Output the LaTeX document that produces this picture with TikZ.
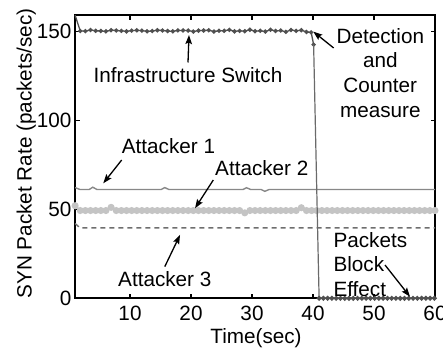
\documentclass[tikz,border=0pt]{standalone}
\usepackage{fontspec}
\setmainfont{Liberation Sans}
\usetikzlibrary{arrows.meta}
\definecolor{infracol}{HTML}{505050}
\definecolor{aonecol}{HTML}{888888}
\definecolor{atwocol}{HTML}{C4C4C4}
\definecolor{athreecol}{HTML}{6E6E6E}
\definecolor{dropcol}{HTML}{6A6A6A}
\definecolor{blockcol}{HTML}{8C8C8C}
\tikzset{
  lbl/.style={font=\fontsize{20.7}{24.7}\selectfont, inner sep=0pt},
  arr/.style={line width=1.3pt, -{Stealth[length=9pt,width=6.5pt,inset=1.5pt]}},
  axframe/.style={line width=2.2pt},
  tickmark/.style={line width=1.2pt},
  infraline/.style={draw=infracol, line width=1.3pt, mark options={fill=infracol, draw=infracol}},
  aoneline/.style={draw=aonecol, line width=1.4pt},
  atwoline/.style={draw=atwocol, line width=2pt, mark options={fill=atwocol, draw=atwocol}},
  athreeline/.style={draw=athreecol, line width=1.4pt, dash pattern=on 5pt off 4pt},
  dropline/.style={draw=dropcol, line width=1.2pt},
  blockline/.style={draw=blockcol, line width=2.3pt, mark options={fill=infracol, draw=infracol}},
}
\begin{document}
\begin{tikzpicture}[x=1pt,y=1pt]
\useasboundingbox (0,0) rectangle (443,352);
\node[lbl, rotate=90, anchor=base] (ylab) at (31.5,198.5) {SYN Packet Rate (packets/sec)};
\node[lbl, anchor=base] (xlab) at (256,8.5) {Time(sec)};
\begin{scope}[shift={(69pt,53.7pt)}, x=6.1pt, y=1.78pt]
  % frame and ticks
  \draw[axframe] (1,0) rectangle (60,159);
  \foreach \t in {10,20,...,60} {
    \draw[tickmark] (\t,0) -- ++(0,4.5pt);
    \draw[tickmark] (\t,159) -- ++(0,-4.5pt);
    \node[lbl, anchor=base] (xt\t) at ([yshift=-22.7pt]\t,0) {\t};
  }
  \foreach \v in {0,50,100,150} {
    \draw[tickmark] (1,\v) -- ++(4.5pt,0);
    \draw[tickmark] (60,\v) -- ++(-4.5pt,0);
    \node[lbl, anchor=base east] (yt\v) at ([xshift=-3.6pt,yshift=-7.5pt]1,\v) {\v};
  }
  % Attacker 3
  \draw[athreeline] (1,42) -- (1.8,39.6) -- (60,39.6);
  % Attacker 1
  \draw[aoneline] (1,62.2) -- (1.8,61.1) -- (3.3,61.1) -- (3.9,62.4) -- (4.6,61.1)
     -- (15.1,61.1) -- (15.7,62.2) -- (16.4,61.1) -- (28.5,61.1) -- (29.1,62.1)
     -- (29.8,61.1) -- (31.5,61.1) -- (32.1,60.1) -- (32.8,61.1) -- (60,61.1);
  % Attacker 2
  \draw[atwoline] plot[mark=*, mark size=2.5pt, samples at={1,1.8428,...,60}]
     (\x, {49.3 + 2.7*max(0,1-abs(\x-1)/0.5) + 1.8*max(0,1-abs(\x-6.9)/0.5)
            - 1.3*max(0,1-abs(\x-28.81)/0.5) + 1.6*max(0,1-abs(\x-38.08)/0.5)});
  % Infrastructure switch
  \draw[infraline] (1,159) -- plot[mark=*, mark size=1.5pt, samples at={1.8428,2.6856,...,39.2}]
     (\x, {150.3 + 0.4*sin(\x*211) + 0.3*cos(\x*97)})
     -- plot[mark=*, mark size=1.5pt] coordinates {(39.7,149.4) (40.1,142.5)};
  \draw[dropline] (40.1,142.5) -- (41,0);
  \draw[blockline] plot[mark=*, mark size=1.1pt, samples at={41,41.7,...,60}] (\x,0);
  % arrow tips
  \coordinate (pInfra) at (19.67,147.9);
  \coordinate (pDet) at (40.05,149.8);
  \coordinate (pAone) at (5.62,64.6);
  \coordinate (pAtwo) at (20.66,50.56);
  \coordinate (pAthree) at (18.2,35.6);
  \coordinate (pPbe) at (55.9,0.9);
\end{scope}
% labels
\node[lbl, anchor=base] (infra) at (188,269.3) {Infrastructure Switch};
\node[lbl, anchor=north, align=center] (det) at (380.3,324.1) {Detection\\and\\Counter\\measure};
\node[lbl, anchor=base west] (aone) at (121.7,198.7) {Attacker 1};
\node[lbl, anchor=base west] (atwo) at (215,176.5) {Attacker 2};
\node[lbl, anchor=base west] (athree) at (118,65.3) {Attacker 3};
\node[lbl, anchor=north west, align=left] (pbe) at (333.3,120.1) {Packets\\Block\\Effect};
% arrows
\draw[arr] ([yshift=5pt]infra.north) -- (pInfra);
\draw[arr] ([shift={(-2.7pt,-20.1pt)}]det.north west) -- (pDet);
\draw[arr] ([yshift=-6.7pt]aone.base west) -- (pAone);
\draw[arr] ([shift={(-1.7pt,-4.5pt)}]atwo.base west) -- (pAtwo);
\draw[arr] ([yshift=4.9pt]athree.north) -- (pAthree);
\draw[arr] ([shift={(51.7pt,-33.1pt)}]pbe.north west) -- (pPbe);
\end{tikzpicture}
\end{document}
